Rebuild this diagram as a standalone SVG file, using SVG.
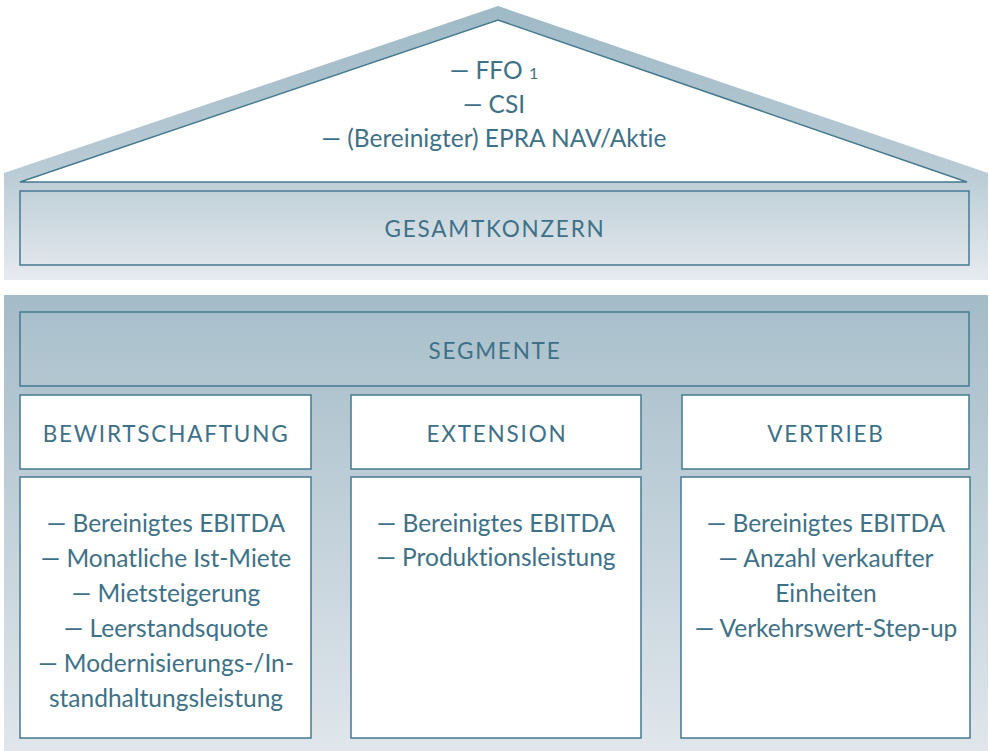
<svg xmlns="http://www.w3.org/2000/svg" width="989" height="751" viewBox="0 0 989 751">
<defs>
<linearGradient id="gRoof" x1="0" y1="0" x2="0" y2="1">
<stop offset="0" stop-color="#9ebac6"/>
<stop offset="0.6" stop-color="#b9cbd5"/>
<stop offset="1" stop-color="#e6ebf0"/>
</linearGradient>
<linearGradient id="gBase" x1="0" y1="0" x2="0" y2="1">
<stop offset="0" stop-color="#a4bcc8"/>
<stop offset="1" stop-color="#e0e6ec"/>
</linearGradient>
<linearGradient id="gGes" x1="0" y1="0" x2="0" y2="1">
<stop offset="0" stop-color="#c2d1d9"/>
<stop offset="1" stop-color="#dfe6eb"/>
</linearGradient>
<linearGradient id="gSeg" x1="0" y1="0" x2="0" y2="1">
<stop offset="0" stop-color="#a9c0cc"/>
<stop offset="1" stop-color="#b3c7d1"/>
</linearGradient>
</defs>
<style>
.box{stroke:#457a90;stroke-width:1.5}
.w{fill:#ffffff}
.t{font-family:Lato,"Open Sans","Liberation Sans",sans-serif;font-size:24.5px;fill:#3e7188;text-anchor:middle;font-variant-ligatures:none}
.h{font-family:Lato,"Open Sans","Liberation Sans",sans-serif;font-size:22.5px;fill:#3e7188;text-anchor:middle;letter-spacing:1.8px}
</style>
<g id="roof">
<polygon points="4,173 498,6 988,173 988,280 4,280" fill="url(#gRoof)"/>
<polygon points="20,182 498,20 967,182" class="box w"/>
<text class="t" x="494" y="79">— FFO <tspan font-size="16">1</tspan></text>
<text class="t" x="494" y="113">— CSI</text>
<text class="t" x="494" y="147">— (Bereinigter) EPRA NAV/Aktie</text>
</g>
<g id="gesamtkonzern">
<rect x="20" y="191" width="949" height="74" fill="url(#gGes)" class="box"/>
<text class="h" x="495" y="237">GESAMTKONZERN</text>
</g>
<g id="base">
<rect x="4" y="295" width="984" height="456" fill="url(#gBase)"/>
</g>
<g id="segmente">
<rect x="20" y="312" width="949" height="74" fill="url(#gSeg)" class="box"/>
<text class="h" x="495" y="359">SEGMENTE</text>
</g>
<g id="bewirtschaftung">
<rect x="20" y="395" width="291" height="74" class="box w"/>
<text class="h" x="166" y="442">BEWIRTSCHAFTUNG</text>
</g>
<g id="extension">
<rect x="351" y="395" width="290" height="74" class="box w"/>
<text class="h" x="497" y="442">EXTENSION</text>
</g>
<g id="vertrieb">
<rect x="682" y="395" width="287" height="74" class="box w"/>
<text class="h" x="826" y="442">VERTRIEB</text>
</g>
<g id="bewirtschaftung-kpi">
<rect x="20" y="477" width="291" height="261" class="box w"/>
<text class="t" x="166" y="532">— Bereinigtes EBITDA</text>
<text class="t" x="166" y="567">— Monatliche Ist-Miete</text>
<text class="t" x="166" y="602">— Mietsteigerung</text>
<text class="t" x="166" y="637">— Leerstandsquote</text>
<text class="t" x="166" y="672">— Modernisierungs-/In-</text>
<text class="t" x="166" y="707">standhaltungsleistung</text>
</g>
<g id="extension-kpi">
<rect x="351" y="477" width="290" height="261" class="box w"/>
<text class="t" x="496" y="532">— Bereinigtes EBITDA</text>
<text class="t" x="496" y="566">— Produktionsleistung</text>
</g>
<g id="vertrieb-kpi">
<rect x="681" y="477" width="289" height="261" class="box w"/>
<text class="t" x="826" y="532">— Bereinigtes EBITDA</text>
<text class="t" x="826" y="567">— Anzahl verkaufter</text>
<text class="t" x="826" y="602">Einheiten</text>
<text class="t" x="826" y="637">— Verkehrswert-Step-up</text>
</g>
<g id="connectors"></g>
</svg>
